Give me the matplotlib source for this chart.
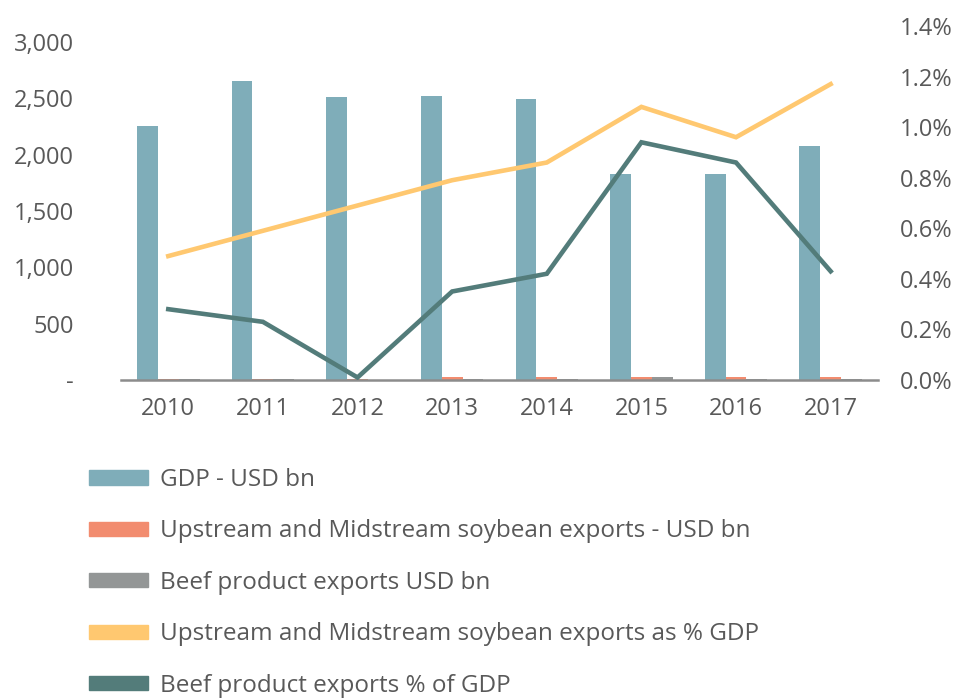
import numpy as np
import matplotlib.pyplot as plt
from matplotlib.patches import Patch
from matplotlib.ticker import FuncFormatter

# values
years = ['2010', '2011', '2012', '2013', '2014', '2015', '2016', '2017']
gdp_usd_bn = [2250, 2650, 2510, 2520, 2490, 1830, 1830, 2080]
soy_usd_bn = [8, 9, 10, 24, 25, 24, 24, 25]
beef_usd_bn = [6, 5, 0, 8, 9, 24, 9, 8]
soy_pct_gdp = [0.49, 0.59, 0.69, 0.79, 0.86, 1.08, 0.96, 1.17]
beef_pct_gdp = [0.28, 0.23, 0.01, 0.35, 0.42, 0.94, 0.86, 0.43]

c_gdp = '#7fadb9'
c_soy = '#f28c6f'
c_beef = '#939696'
c_soyl = '#ffc870'
c_beefl = '#537c7a'
c_txt = '#595959'

plt.rcParams['font.family'] = ['Open Sans', 'DejaVu Sans']

fig = plt.figure(figsize=(9.57, 6.98), dpi=100)
ax = fig.add_axes([0.1264, 0.4556, 0.791, 0.5072])
ax2 = ax.twinx()

x = np.arange(len(years))
w = 0.22
ax.bar(x - w, gdp_usd_bn, w, color=c_gdp, zorder=1)
ax.bar(x, soy_usd_bn, w, color=c_soy, zorder=1)
ax.bar(x + w, beef_usd_bn, w, color=c_beef, zorder=1)

ax2.plot(x, soy_pct_gdp, color=c_soyl, lw=3.3, solid_joinstyle='miter')
ax2.plot(x, beef_pct_gdp, color=c_beefl, lw=3.3, solid_joinstyle='miter')

ax.set_xlim(-0.5, 7.5)
ax.set_ylim(0, 3000 * 354 / 338)
ax2.set_ylim(0, 1.4)
ax.set_yticks(np.arange(0, 3001, 500))
ax2.set_yticks(np.arange(0, 1.41, 0.2))
ax.set_xticks(x)
ax.set_xticklabels(years)

ax.yaxis.set_major_formatter(FuncFormatter(lambda v, p: '-' if v == 0 else '{:,.0f}'.format(v)))
ax2.yaxis.set_major_formatter(FuncFormatter(lambda v, p: '{:.1f}%'.format(v)))

for a in (ax, ax2):
    for s in a.spines.values():
        s.set_visible(False)
    a.tick_params(length=0, labelsize=17, colors=c_txt)
ax.spines['bottom'].set_visible(True)
ax.spines['bottom'].set_color('#8c8c8c')
ax.spines['bottom'].set_linewidth(1.8)
ax.tick_params(axis='y', pad=34)
ax.tick_params(axis='x', pad=12)
ax2.tick_params(axis='y', pad=16)

handles = [Patch(color=c_gdp), Patch(color=c_soy), Patch(color=c_beef),
           Patch(color=c_soyl), Patch(color=c_beefl)]
labels = ['GDP - USD bn',
          'Upstream and Midstream soybean exports - USD bn',
          'Beef product exports USD bn',
          'Upstream and Midstream soybean exports as % GDP',
          'Beef product exports % of GDP']
leg = fig.legend(handles, labels, loc='upper left', bbox_to_anchor=(0.08, 0.347),
                 frameon=False, fontsize=17.5, handlelength=2.45, handleheight=0.53,
                 labelspacing=1.13, handletextpad=0.48, borderpad=0)
for t in leg.get_texts():
    t.set_color(c_txt)

plt.savefig('out.png', dpi=100)
plt.close()
